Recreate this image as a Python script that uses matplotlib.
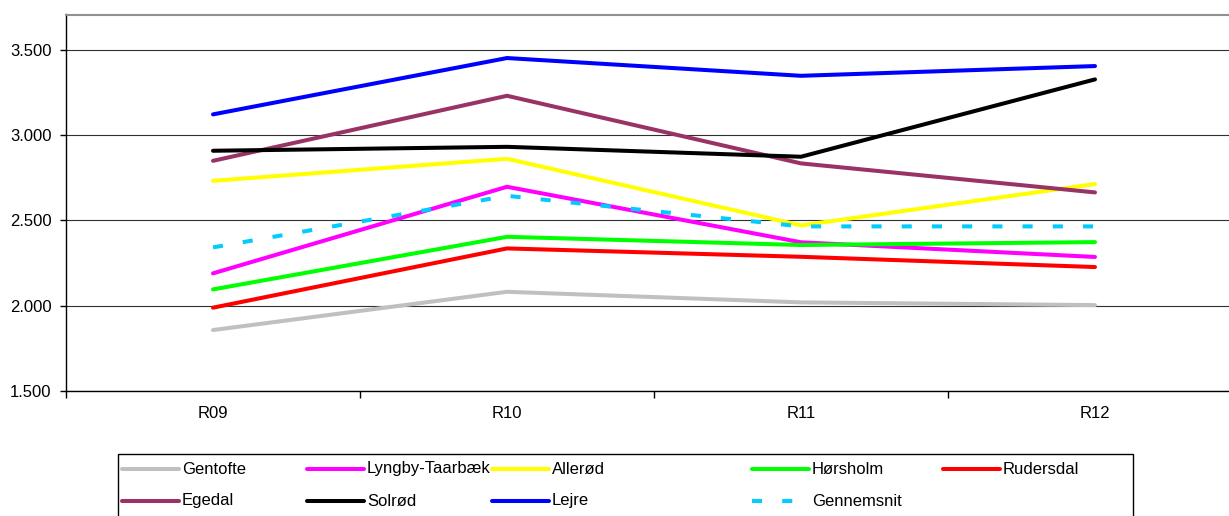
import matplotlib
matplotlib.use("Agg")
import matplotlib.pyplot as plt
from matplotlib.lines import Line2D
from matplotlib.patches import Rectangle
from matplotlib.ticker import FuncFormatter

plt.rcParams['font.family'] = ['Liberation Sans', 'DejaVu Sans']

# data
periods = ['R09', 'R10', 'R11', 'R12']
gentofte = [1857, 2081, 2019, 2003]
lyngby = [2189, 2696, 2371, 2285]
alleroed = [2731, 2860, 2470, 2712]
hoersholm = [2095, 2403, 2355, 2372]
rudersdal = [1988, 2335, 2286, 2226]
egedal = [2848, 3229, 2833, 2663]
solroed = [2907, 2930, 2872, 3325]
lejre = [3120, 3450, 3346, 3403]
gennemsnit = [2341, 2643, 2464, 2464]

names = ['Gentofte', 'Lyngby-Taarbæk', 'Allerød', 'Hørsholm', 'Rudersdal',
         'Egedal', 'Solrød', 'Lejre', 'Gennemsnit']
series = [gentofte, lyngby, alleroed, hoersholm, rudersdal,
          egedal, solroed, lejre, gennemsnit]
colors = ['#C0C0C0', '#FF00FF', '#FFFF00', '#00FF00', '#FF0000',
          '#993366', '#000000', '#0000FF', '#00CCFF']

W, H = 1229, 516
fig = plt.figure(figsize=(W / 100, H / 100), dpi=100)
ax = fig.add_axes([66 / W, (H - 391) / H, (1242 - 66) / W, (391 - 14.5) / H])

x = list(range(len(periods)))
lines = []
for name, vals, col in zip(names, series, colors):
    if name == 'Gennemsnit':
        ln, = ax.plot(x, vals, color=col, lw=2.9, dashes=(2.5, 5),
                      dash_capstyle='butt')
    else:
        ln, = ax.plot(x, vals, color=col, lw=2.9, solid_capstyle='round',
                      solid_joinstyle='round')
    lines.append(ln)

ax.set_xlim(-0.5, 3.5)
ax.set_ylim(1500, 3705)
ax.set_yticks([1500, 2000, 2500, 3000, 3500])
ax.yaxis.set_major_formatter(FuncFormatter(lambda v, p: f'{int(v):,}'.replace(',', '.')))
ax.set_xticks(x)
ax.set_xticklabels(periods)
ax.set_xticks([-0.5, 0.5, 1.5, 2.5, 3.5], minor=True)
ax.tick_params(axis='x', which='major', length=0, pad=11, labelsize=12)
ax.tick_params(axis='x', which='minor', length=5, width=1, direction='out')
ax.tick_params(axis='y', length=4.5, width=1, pad=6, labelsize=12)
ax.grid(axis='y', color='#303030', lw=0.8)
ax.set_axisbelow(True)
ax.spines['top'].set_color('#909090')
ax.spines['top'].set_linewidth(1.5)
ax.spines['right'].set_visible(False)
for s in ['left', 'bottom']:
    ax.spines[s].set_color('black')
    ax.spines[s].set_linewidth(1)

# legend laid out like the Excel one (row-wise, uneven columns)
fig.add_artist(Rectangle((118 / W, 1 - 540 / H), (1133 - 118) / W, (540 - 454) / H,
                         transform=fig.transFigure, fill=False, ec='black', lw=1))
col_x = [122, 307, 492, 752, 943]
row_y = [469, 501]
for i, (ln, name) in enumerate(zip(lines, names)):
    r, c = divmod(i, 5)
    x0 = col_x[c]
    yy = 1 - row_y[r] / H
    h = Line2D([x0 / W, (x0 + 57) / W], [yy, yy], transform=fig.transFigure,
               color=ln.get_color(), lw=2.9)
    if name == 'Gennemsnit':
        h.set_dashes((2.5, 5))
        h.set_dash_capstyle('butt')
    else:
        h.set_solid_capstyle('round')
    fig.add_artist(h)
    fig.text((x0 + 60) / W, yy, name, va='center', ha='left', fontsize=12)

fig.savefig('out.png', dpi=100)
